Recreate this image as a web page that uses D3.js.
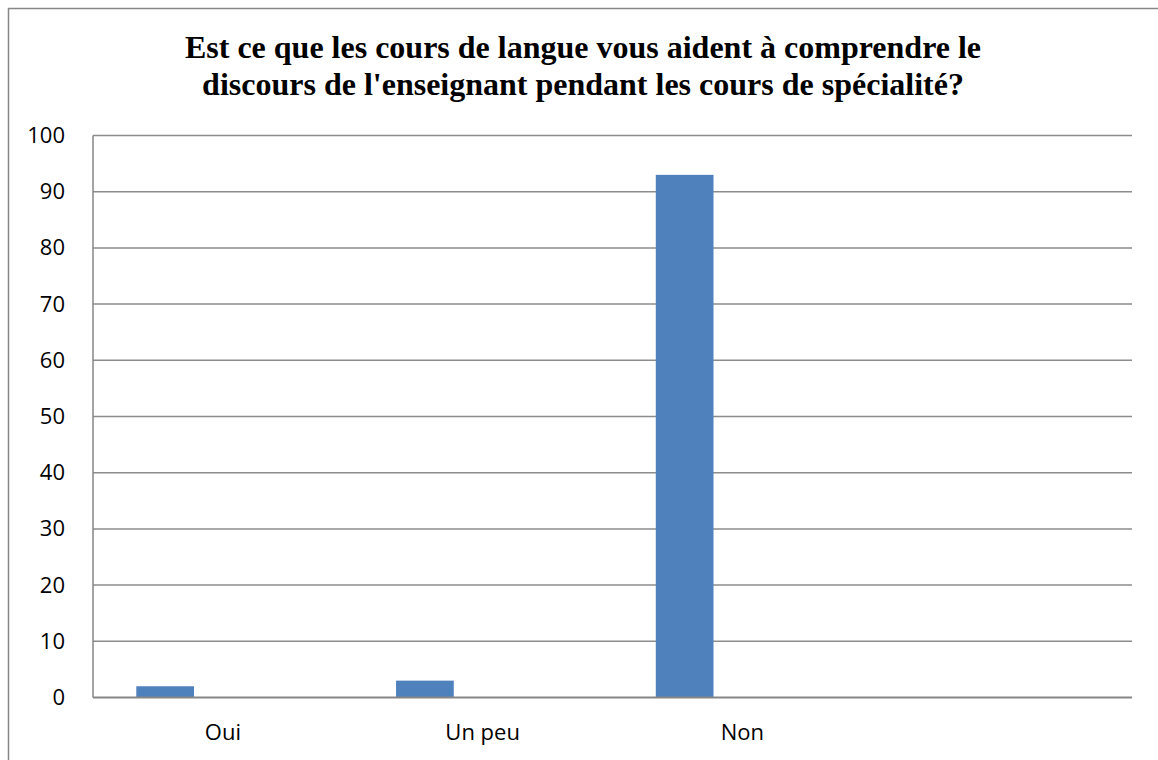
<!DOCTYPE html>
<html>
<head>
<meta charset="utf-8">
<script src="https://cdn.jsdelivr.net/npm/d3@7"></script>
<style>
    body { margin: 0; background: #fff; }
    svg { display: block; }
</style>
</head>
<body>
<div id="chart"></div>
<script>
// Data
var categories = ["Oui", "Un peu", "Non", ""];
var seriesNames = ["Série1", "Série2", "Série3"];
var serie1 = [2, 3, 93, null];
var serie2 = [null, null, null, null];
var serie3 = [null, null, null, null];
var yTicks = [0, 10, 20, 30, 40, 50, 60, 70, 80, 90, 100];
var titleLines = ["Est ce que les cours de langue vous aident à comprendre le",
    "discours de l'enseignant pendant les cours de spécialité?"];

// Define the size and margins
var fullWidth = 1158, fullHeight = 760;
var margin = { top: 135.5, right: 26, bottom: 62.5, left: 93 },
    width = fullWidth - margin.left - margin.right,
    height = fullHeight - margin.top - margin.bottom;

var svg = d3.select("#chart").append("svg")
    .attr("width", fullWidth)
    .attr("height", fullHeight);

// Chart area border (runs off the right and bottom edges)
svg.append("rect")
    .attr("x", 8.5)
    .attr("y", 8.5)
    .attr("width", fullWidth + 20)
    .attr("height", fullHeight + 20)
    .attr("fill", "none")
    .attr("stroke", "#878787")
    .attr("stroke-width", 1.5);

// Title
svg.append("text")
    .attr("x", 583)
    .attr("y", 58)
    .attr("text-anchor", "middle")
    .style("font-family", "'Liberation Serif', 'Times New Roman', serif")
    .style("font-weight", "bold")
    .style("font-size", "32px")
    .selectAll("tspan")
    .data(titleLines)
    .enter().append("tspan")
    .attr("x", 583)
    .attr("dy", function (d, i) { return i === 0 ? 0 : 37; })
    .text(function (d) { return d; });

var g = svg.append("g")
    .attr("transform", "translate(" + margin.left + "," + margin.top + ")");

// Scales
var y = d3.scaleLinear()
    .domain([0, 100])
    .range([height, 0]);

var x = d3.scaleBand()
    .domain(categories.map(function (d, i) { return i; }))
    .range([0, width]);

// Excel style clustered bars: 3 series, gap width 150%
var xInner = d3.scaleBand()
    .domain(seriesNames)
    .range([0, x.bandwidth()])
    .paddingInner(0)
    .paddingOuter(0.75);

// Gridlines
g.selectAll(".grid")
    .data(yTicks.filter(function (t) { return t > 0; }))
    .enter().append("line")
    .attr("class", "grid")
    .attr("x1", 0)
    .attr("x2", width)
    .attr("y1", function (d) { return y(d); })
    .attr("y2", function (d) { return y(d); })
    .style("stroke", "#8c8c8c")
    .style("stroke-width", "1.5px");

// Y axis labels
var yAxis = g.append("g")
    .call(d3.axisLeft(y).tickValues(yTicks).tickSize(0).tickPadding(28));
yAxis.select(".domain").remove();
yAxis.selectAll("text")
    .style("font-family", "'Open Sans', sans-serif")
    .style("font-size", "22px")
    .style("fill", "#000");

// Bars
var allSeries = [serie1, serie2, serie3];
allSeries.forEach(function (vals, s) {
    g.selectAll(".bar-s" + s)
        .data(vals.map(function (v, i) { return { i: i, v: v }; })
            .filter(function (d) { return d.v !== null; }))
        .enter().append("rect")
        .attr("class", "bar-s" + s)
        .attr("x", function (d) { return x(d.i) + xInner(seriesNames[s]); })
        .attr("y", function (d) { return y(d.v); })
        .attr("width", xInner.bandwidth())
        .attr("height", function (d) { return y(0) - y(d.v); })
        .attr("fill", "#4f81bd");
});

// Axis lines
g.append("line")
    .attr("x1", 0).attr("x2", 0)
    .attr("y1", 0).attr("y2", height)
    .style("stroke", "#868686")
    .style("stroke-width", "1.5px");

g.append("line")
    .attr("x1", 0).attr("x2", width)
    .attr("y1", y(0)).attr("y2", y(0))
    .style("stroke", "#868686")
    .style("stroke-width", "2px");

// Category labels
g.selectAll(".cat-label")
    .data(categories)
    .enter().append("text")
    .attr("class", "cat-label")
    .attr("x", function (d, i) { return x(i) + x.bandwidth() / 2; })
    .attr("y", height + 42.5)
    .attr("text-anchor", "middle")
    .style("font-family", "'Open Sans', sans-serif")
    .style("font-size", "22px")
    .text(function (d) { return d; });
</script>
</body>
</html>
